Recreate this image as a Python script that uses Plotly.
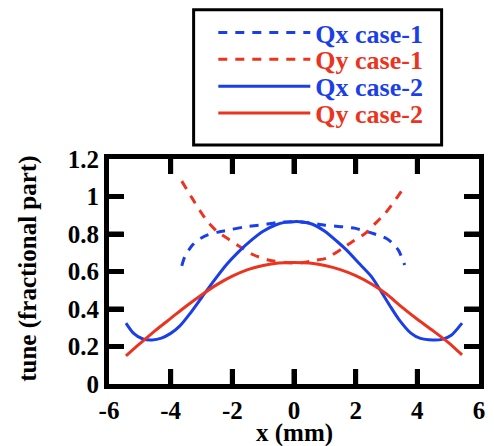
import plotly.graph_objects as go

# Qx case-1 (dashed blue)
qx1_x = [-3.64, -3.54, -3.3, -3.1, -2.8, -2.47, -2.0, -1.6, -1.0, -0.5, 0.0, 0.5, 1.0, 1.6, 2.0, 2.4, 2.8, 3.0, 3.2, 3.4, 3.59]
qx1_y = [0.63, 0.68, 0.74, 0.77, 0.795, 0.81, 0.825, 0.838, 0.85, 0.862, 0.866, 0.86, 0.847, 0.838, 0.83, 0.811, 0.79, 0.776, 0.75, 0.71, 0.635]

# Qy case-1 (dashed red)
qy1_x = [-3.64, -3.3, -3.06, -2.8, -2.47, -2.1, -1.83, -1.3, -0.8, -0.3, 0.0, 0.3, 0.7, 1.04, 1.57, 1.9, 2.31, 2.6, 2.95, 3.3, 3.54, 3.62]
qy1_y = [1.082, 0.99, 0.927, 0.865, 0.81, 0.77, 0.74, 0.688, 0.66, 0.648, 0.645, 0.648, 0.66, 0.67, 0.723, 0.76, 0.803, 0.85, 0.909, 0.985, 1.042, 1.06]

# Qx case-2 (solid blue)
qx2_x = [-5.45, -5.2, -4.9, -4.6, -4.3, -4.0, -3.7, -3.4, -3.0, -2.6, -2.2, -1.8, -1.4, -1.0, -0.6, -0.3, 0.0, 0.3, 0.6, 1.0, 1.4, 1.7, 2.1, 2.5, 2.8, 3.1, 3.4, 3.8, 4.1, 4.5, 4.8, 5.1, 5.45]
qx2_y = [0.325, 0.27, 0.24, 0.235, 0.245, 0.27, 0.31, 0.37, 0.46, 0.55, 0.635, 0.705, 0.765, 0.815, 0.848, 0.862, 0.866, 0.864, 0.852, 0.815, 0.76, 0.715, 0.645, 0.575, 0.5, 0.42, 0.345, 0.27, 0.243, 0.235, 0.238, 0.26, 0.325]

# Qy case-2 (solid red)
qy2_x = [-5.45, -5.0, -4.5, -4.0, -3.5, -3.0, -2.5, -2.0, -1.5, -1.0, -0.5, 0.0, 0.5, 1.0, 1.5, 2.0, 2.5, 3.0, 3.5, 4.0, 4.5, 5.0, 5.45]
qy2_y = [0.15, 0.215, 0.285, 0.35, 0.415, 0.475, 0.53, 0.575, 0.61, 0.632, 0.645, 0.648, 0.645, 0.632, 0.61, 0.578, 0.535, 0.48, 0.41, 0.345, 0.285, 0.222, 0.155]

x_ticks = [-6, -4, -2, 0, 2, 4, 6]
x_tick_labels = ["-6", "-4", "-2", "0", "2", "4", "6"]
y_ticks = [0, 0.2, 0.4, 0.6, 0.8, 1.0, 1.2]
y_tick_labels = ["0", "0.2", "0.4", "0.6", "0.8", "1", "1.2"]
x_title = "x (mm)"
y_title = "tune (fractional part)"

BLUE = "#1b3fe6"
RED = "#ea3420"
FONT = "Liberation Serif, Times New Roman, serif"

W, H = 494, 446
L, R, T, B = 109, 9, 158, 62
PW, PH = W - L - R, H - T - B
TICK_LEN = 15

fig = go.Figure()
series = [
    (qx1_x, qx1_y, "Qx case-1", BLUE, "9px,8px", "legend"),
    (qy1_x, qy1_y, "Qy case-1", RED, "9px,8px", "legend2"),
    (qx2_x, qx2_y, "Qx case-2", BLUE, "solid", "legend3"),
    (qy2_x, qy2_y, "Qy case-2", RED, "solid", "legend4"),
]
for xs, ys, name, col, dash, lg in series:
    fig.add_trace(go.Scatter(
        x=xs, y=ys, mode="lines", legend=lg,
        name=f'<span style="color:{col}"><b>{name}</b></span>',
        line=dict(color=col, width=3, dash=dash, shape="spline", smoothing=0.7),
    ))

axis_common = dict(
    showgrid=False, zeroline=False,
    showline=True, linecolor="black", linewidth=5, mirror="ticks",
    ticks="inside", ticklen=TICK_LEN, tickwidth=5, tickcolor="black",
    tickfont=dict(family=FONT, size=25, color="black"),
)

legend_rows_y = [31, 58, 85, 112]  # pixel centres of legend rows from top
legend_common = dict(
    xref="paper", yref="paper", xanchor="left", yanchor="middle",
    bgcolor="rgba(0,0,0,0)", borderwidth=0,
    font=dict(family=FONT, size=26),
    itemwidth=92,
)

layout_legends = {}
for i, ry in enumerate(legend_rows_y):
    key = "legend" if i == 0 else f"legend{i + 1}"
    layout_legends[key] = dict(x=(215 - L) / PW, y=(T + PH - ry) / PH, **legend_common)

# Inward tick marks on all four sides, placed through the axis scales
tick_line = dict(color="black", width=5)
shapes = []
for v in x_ticks[1:-1]:
    shapes.append(dict(type="line", xref="x", yref="y domain", x0=v, x1=v,
                       y0=0, y1=TICK_LEN / PH, line=tick_line, layer="above"))
    shapes.append(dict(type="line", xref="x", yref="y domain", x0=v, x1=v,
                       y0=1 - TICK_LEN / PH, y1=1, line=tick_line, layer="above"))
for v in y_ticks[1:-1]:
    shapes.append(dict(type="line", xref="x domain", yref="y", x0=0, x1=TICK_LEN / PW,
                       y0=v, y1=v, line=tick_line, layer="above"))
    shapes.append(dict(type="line", xref="x domain", yref="y", x0=1 - TICK_LEN / PW, x1=1,
                       y0=v, y1=v, line=tick_line, layer="above"))

# Legend frame
shapes.append(dict(type="rect", xref="paper", yref="paper",
                   x0=(195 - L) / PW, x1=(447 - L) / PW,
                   y0=(T + PH - 144) / PH, y1=(T + PH - 8) / PH,
                   line=dict(color="black", width=3), fillcolor="white", layer="below"))

fig.update_layout(
    width=W, height=H,
    margin=dict(l=L, r=R, t=T, b=B),
    paper_bgcolor="white", plot_bgcolor="white",
    font=dict(family=FONT, color="black"),
    xaxis=dict(range=[-6, 6], tickvals=x_ticks,
               ticktext=[f"<b>{t}</b>" for t in x_tick_labels],
               **axis_common),
    yaxis=dict(range=[0, 1.2], tickvals=y_ticks,
               ticktext=[f"<b>{t}</b>" for t in y_tick_labels],
               **axis_common),
    showlegend=True,
    annotations=[
        dict(text=f"<b>{x_title}</b>", xref="paper", yref="paper",
             x=0.5, y=-(433 - (T + PH)) / PH, xanchor="center", yanchor="middle",
             showarrow=False, font=dict(family=FONT, size=25, color="black")),
        dict(text=f"<b>{y_title}</b>", xref="paper", yref="paper",
             x=-(L - 26) / PW, y=1 - (268 - T) / PH, xanchor="center", yanchor="middle",
             textangle=-90, showarrow=False, font=dict(family=FONT, size=25, color="black")),
    ],
    shapes=shapes,
    **layout_legends,
)

fig.write_html("out.html", config={"displayModeBar": False},
               post_script="document.body.style.margin='0';")
